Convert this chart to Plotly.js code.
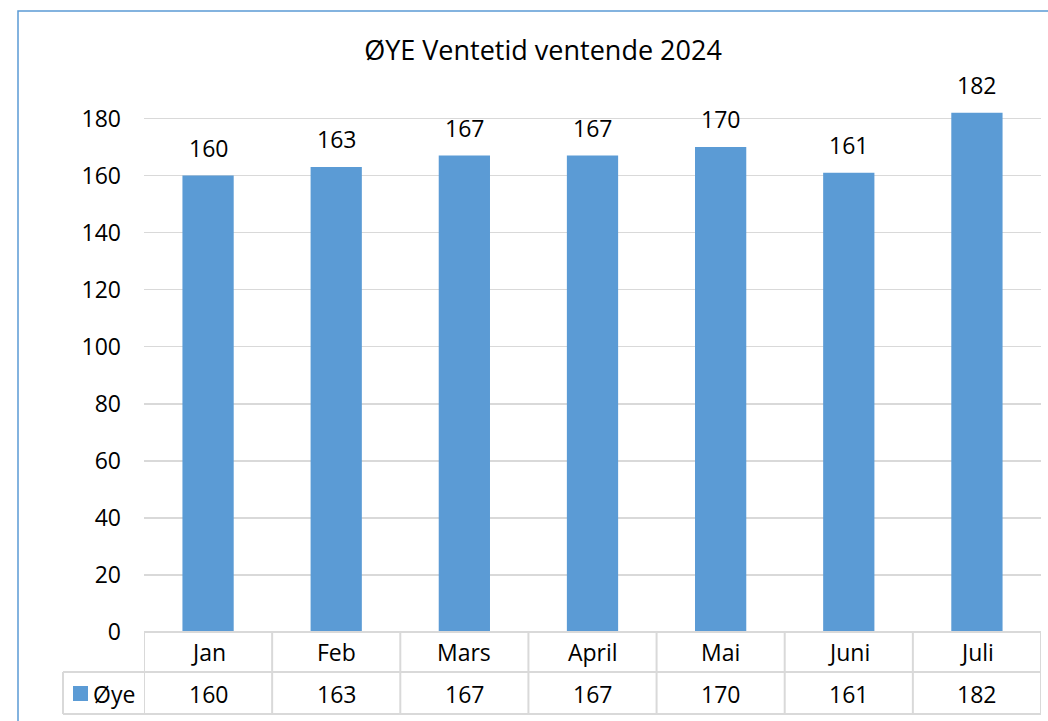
<!DOCTYPE html>
<html>
<head>
<meta charset="utf-8">
<script src="https://cdn.plot.ly/plotly-3.0.1.min.js"></script>
<style>html,body{margin:0;padding:0;background:#fff;}#chart{width:1048px;height:721px;}</style>
</head>
<body>
<div id="chart"></div>
<script>
const chartTitle = 'ØYE Ventetid ventende 2024';
const months = ['Jan', 'Feb', 'Mars', 'April', 'Mai', 'Juni', 'Juli'];
const values = [160, 163, 167, 167, 170, 161, 182];
const seriesName = 'Øye';
const yTicks = [0, 20, 40, 60, 80, 100, 120, 140, 160, 180];

const W = 1048, H = 721;
const L = 144, R = 1041, T = 90, B = 632;
const pw = R - L, ph = B - T;
const px = p => (p - L) / pw;
const py = p => (B - p) / ph;

const FONT = 'Open Sans, Noto Sans, sans-serif';
const FS = 23;
const grid = '#D9D9D9';
const blue = '#5B9BD5';

const shapes = [];
const annotations = [];

// outer chart border
shapes.push({type: 'rect', xref: 'paper', yref: 'paper', x0: px(18), x1: px(1075), y0: py(740), y1: py(11),
  line: {color: blue, width: 1.5}, fillcolor: 'rgba(0,0,0,0)', layer: 'below'});

// data table lines
const tblTop = 632, row1 = 672, row2 = 714, legL = 63;
function hline(x0, x1, y, xref) {
  shapes.push({type: 'line', xref: xref, yref: 'paper', x0: x0, x1: x1, y0: py(y), y1: py(y), line: {color: grid, width: 2}});
}
function vline(x, y0, y1, xref) {
  shapes.push({type: 'line', xref: xref, yref: 'paper', x0: x, x1: x, y0: py(y0), y1: py(y1), line: {color: grid, width: 2}});
}
hline(0, 1, tblTop, 'paper');
hline(px(legL), 1, row1, 'paper');
hline(px(legL), 1, row2, 'paper');
vline(px(legL), row1, row2, 'paper');
for (let i = 0; i <= months.length; i++) {
  vline(i - 0.5, tblTop, row2, 'x');
}

// legend key in table
shapes.push({type: 'rect', xref: 'paper', yref: 'paper', x0: px(73), x1: px(88), y0: py(701), y1: py(686),
  line: {width: 0}, fillcolor: blue});
annotations.push({xref: 'paper', yref: 'paper', x: px(91), y: py(694), xanchor: 'left', yanchor: 'middle',
  text: seriesName, showarrow: false, font: {family: FONT, size: FS, color: '#000'}});

months.forEach((m, i) => {
  annotations.push({xref: 'x', yref: 'paper', x: i, y: py(652), xanchor: 'center', yanchor: 'middle',
    text: m, showarrow: false, font: {family: FONT, size: FS, color: '#000'}});
  annotations.push({xref: 'x', yref: 'paper', x: i, y: py(694), xanchor: 'center', yanchor: 'middle',
    text: String(values[i]), showarrow: false, font: {family: FONT, size: FS, color: '#000'}});
  // data labels above bars
  annotations.push({xref: 'x', yref: 'y', x: i, y: values[i], xanchor: 'center', yanchor: 'middle', yshift: 28,
    text: String(values[i]), showarrow: false, font: {family: FONT, size: FS, color: '#000'}});
});

const trace = {
  type: 'bar', x: months.map((m, i) => i), y: values, name: seriesName,
  marker: {color: blue, line: {width: 0}}, hoverinfo: 'none'
};

const layout = {
  width: W, height: H,
  margin: {l: L, r: W - R, t: T, b: H - B, pad: 0},
  paper_bgcolor: '#fff', plot_bgcolor: '#fff',
  showlegend: false,
  bargap: 0.6,
  title: {text: chartTitle, xref: 'container', yref: 'container', x: 543 / W, y: 1 - 51 / H,
    xanchor: 'center', yanchor: 'middle', font: {family: FONT, size: 27, color: '#000'}},
  xaxis: {range: [-0.5, months.length - 0.5], showticklabels: false, showgrid: false, zeroline: false,
    showline: false, ticks: '', fixedrange: true},
  yaxis: {range: [0, 190], tickvals: yTicks, ticktext: yTicks.map(String), showgrid: true, gridcolor: grid,
    gridwidth: 1.5, zeroline: false, showline: false, ticks: '', ticklabelstandoff: 22,
    tickfont: {family: FONT, size: FS, color: '#000'}, fixedrange: true},
  shapes: shapes,
  annotations: annotations,
  font: {family: FONT}
};

Plotly.newPlot('chart', [trace], layout, {displayModeBar: false, staticPlot: true});
</script>
</body>
</html>
